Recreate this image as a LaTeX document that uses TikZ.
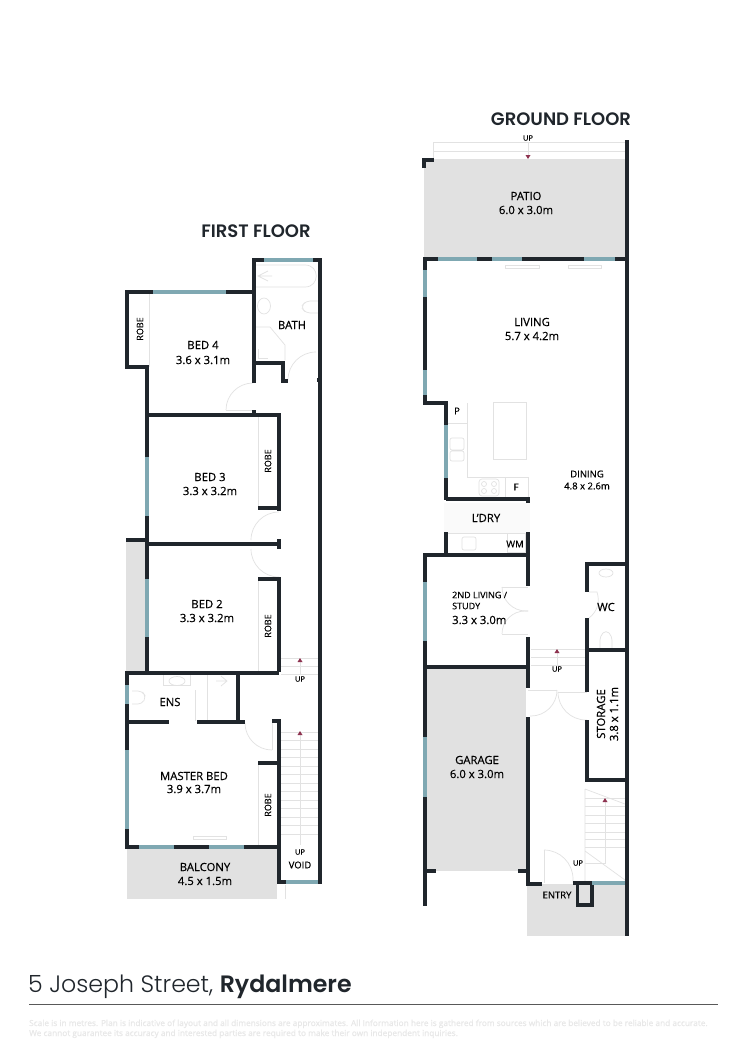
\documentclass[tikz,border=0pt]{standalone}
\usepackage{fontspec}
\setmainfont{Open Sans}[RawFeature={embolden=0.5}]
\newfontfamily\headfont{Poppins SemiBold}
\newfontfamily\titlefont{Poppins Light}
\definecolor{wallcol}{HTML}{20262C}
\definecolor{glasscol}{HTML}{7FA8B2}
\definecolor{slabcol}{HTML}{E1E1E1}
\definecolor{fixcol}{HTML}{E2E2E2}
\definecolor{tipcol}{HTML}{8E3350}
\tikzset{
  wall/.style={draw=wallcol,line width=3.6pt,line cap=butt,line join=miter},
  glass/.style={draw=glasscol,line width=3.4pt},
  fixture/.style={draw=fixcol,line width=0.7pt},
  doorarc/.style={fixture,rounded corners=#1},
  room/.style={font=\fontsize{11.3}{13}\selectfont,text=black,inner sep=0pt},
  small/.style={font=\fontsize{9.5}{11}\selectfont,text=black,inner sep=0pt},
  tiny/.style={font=\fontsize{7.5}{9}\selectfont,text=black,inner sep=0pt},
  heading/.style={font=\headfont\fontsize{18}{21}\selectfont,text=wallcol,inner sep=0pt},
  uptip/.pic={\fill[tipcol] (-2.5,2) -- (2.5,2) -- (0,-2) -- cycle;}
}
\begin{document}
\begin{tikzpicture}[x=1pt,y=-1pt]
	\useasboundingbox[fill=white] (0,0) rectangle (750,1061);

	\fill[slabcol] (126,541) rectangle (146,672);
	\fill[slabcol] (127,848) rectangle (277,899);
	\fill[slabcol] (424,159) rectangle (625,257);
	\fill[slabcol] (427,669) rectangle (526,871);
	\fill[slabcol] (527,884) rectangle (625,936);
	\fill[black!2] (444,503) rectangle (530,533);

	\draw[fixture] (285,885) -- (285,899);
	\draw[fixture] (258,415) -- (258,508) (258,579) -- (258,672) (258,763) -- (258,846);
	\draw[fixture] (149,292) -- (149,367);
	\draw[fixture] (193,836) rectangle (226,839);

	\draw[doorarc=27pt] (226,410) |- (253,383);
	\draw[fixture] (226,410) -- (254,410);
	\draw[doorarc=28pt] (288,380) |- (316,352);
	\draw[doorarc=28pt] (251,540) |- (279,512);
	\draw[doorarc=28pt] (251,549) |- (279,577);
	\draw[doorarc=27pt] (245,723) |- (272,750);
	\draw[fixture] (272,723) -- (272,750);

	\draw[fixture] (256,287) -- (305,287) .. controls (320,287) and (320,265) .. (305,265) -- (256,265);
	\draw[fixture] (268,271) -- (258,276) -- (268,281) (258,276) -- (272,276);
	\draw[fixture] (264,306) ellipse (6.5 and 8);
	\draw[fixture,rounded corners=4pt] (318,301) -- (306,301) -- (301,307) -- (306,313) -- (318,313);
	\draw[fixture] (256,327) -- (270,327) -- (285,345) -- (285,360);
	\draw[fixture] (258,349) -- (258,358) -- (268,358);
	\draw[fixture] (177,681) ellipse (8 and 4.5);
	\draw[fixture] (163,673) -- (163,685) -- (190,685) -- (190,673);
	\draw[fixture] (207,673) -- (207,721) (195,690) -- (195,721);
	\draw[fixture,rounded corners=4pt] (132,691) -- (142,691) -- (146,697) -- (142,704) -- (132,704);
	\draw[fixture] (216,681) -- (227,681) (221,676) -- (227,681) -- (221,686);

	\foreach \ypos in {732,740.5,...,840} \draw[fixture] (281,\ypos) -- (318,\ypos);
	\foreach \ypos in {658,666,674} \draw[fixture] (281,\ypos) -- (318,\ypos);
	\draw[fixture] (300,733) -- (300,845) (300,660) -- (300,674);
	\pic at (300,733) {uptip};
	\pic at (300,660) {uptip};

	\draw[fixture] (433,159) -- (433,142) -- (625,142) (433,151) -- (625,151) (528,142) -- (528,157);
	\pic[rotate=180] at (528,157) {uptip};
	\draw[fixture] (505,265) rectangle (539,268) (568,265) rectangle (601,268);

	\draw[fixture] (447,423) -- (467,423) -- (467,403) (467,423) -- (467,477) -- (505,477);
	\draw[fixture] (505,497) -- (505,477) -- (528,477) -- (528,497);
	\draw[fixture] (493,402) rectangle (526,459);
	\draw[fixture,rounded corners=2pt] (450,438) rectangle (464,450) (450,451) rectangle (464,461);
	\draw[fixture,rounded corners=3pt] (479,479) rectangle (499,496);
	\foreach \xpos in {484,494} \foreach \ypos in {484,491} \draw[fixture] (\xpos,\ypos) circle (2.5);
	\draw[fixture] (447,533) -- (528,533) (507,533) rectangle (525,552);
	\draw[fixture,rounded corners=2pt] (462,537) rectangle (476,550);

	\draw[doorarc=24pt] (502,587) |- (528,611);
	\draw[doorarc=23pt] (502,634) |- (528,611);
	\draw[fixture] (502,587) -- (528,587) (502,634) -- (528,634);
	\draw[fixture] (531,649) -- (585,649) (531,657) -- (585,657) (531,665) -- (585,665) (557,651) -- (557,665);
	\pic at (557,651) {uptip};
	\draw[doorarc=26pt] (557,690) |- (530,716);
	\draw[fixture] (528,690) -- (557,690) (558,692) -- (587,692);
	\draw[doorarc=28pt] (558,692) |- (587,720);
	\draw[fixture] (606,573) ellipse (7 and 4);
	\draw[fixture] (589,592) -- (597,592) to[bend left=35] (589,618);
	\draw[fixture,rounded corners=4pt] (600,648) -- (600,636) -- (606,630) -- (612,636) -- (612,648);

	\draw[fixture] (585,789) -- (625,804) (585,851) -- (625,880) (585,789) -- (585,883);
	\foreach \ypos in {798,806,815,823,832,839,847} \draw[fixture] (585,\ypos) -- (625,\ypos);
	\draw[fixture] (605,800) -- (605,863) -- (585,863);
	\pic at (605,800) {uptip};
	\draw[fixture] (544,850) -- (544,883);
	\draw[doorarc=29pt] (544,850) -| (573,883);

	\draw[wall] (264,260) -| (254,383) (313,260) -- (320,260) -- (320,882) -- (279,882) -- (279,721) -- (272,721);
	\draw[wall] (254,292) -| (127,367) -- (147,367) -- (147,672);
	\draw[wall] (254,410) -- (254,415) (147,415) -| (279,511) (258,508) -- (279,508);
	\draw[wall] (254,363) -| (283,381) -- (288,381) (317,380) -- (320,380);
	\draw[wall] (126,540) -- (147,540) (147,544) -- (279,544) (279,539) -- (279,549);
	\draw[wall] (258,579) -- (279,579) (279,577) -- (279,672);
	\draw[wall] (127,673) -- (279,673) (127,671) -- (127,847) -- (279,847);
	\draw[wall] (238,673) -- (238,722) (127,722) -- (169,722) (197,722) -- (245,722) (258,763) -- (279,763);

	\draw[wall] (424,168) |- (434,160);
	\draw[wall] (627,140) -- (627,936);
	\draw[wall] (627,259) -- (425,259) -- (425,403) -- (446,403) -- (446,500);
	\draw[wall] (446,499) -| (528,503);
	\draw[wall] (446,532) -- (446,555) (528,532) -- (528,586) (425,555) -- (528,555);
	\draw[wall] (425,553) -- (425,906) (425,667) -- (528,667);
	\draw[wall] (528,637) -- (528,688) (528,717) -- (528,884) -- (542,884);
	\draw[wall] (425,871) -- (436,871) (518,871) -- (528,871);
	\draw[wall] (573,883) -- (592,883) (577.5,883) |- (592,905) -- (592,883);
	\draw[wall] (627,564) -- (587,564) -- (587,592) (587,618) -- (587,692) (587,720) -- (587,780) -- (627,780);
	\draw[wall] (587,650) -- (627,650);

	\draw[glass] (264,260) -- (313,260) (153,292) -- (226,292) (147,457) -- (147,516) (147,579) -- (147,637);
	\draw[glass] (127,685) -- (127,704) (127,750) -- (127,829) (139,847) -- (174,847) (209,847) -- (244,847) (286,882) -- (318,882);
	\draw[glass] (438,259) -- (477,259) (492,259) -- (522,259) (584,259) -- (615,259);
	\draw[glass] (425,270) -- (425,297) (425,370) -- (425,395) (446,425) -- (446,478);
	\draw[glass] (425,582) -- (425,641) (425,737) -- (425,797) (592,883) -- (625,883);

	\node[heading] (firsttitle) at (256,231) {FIRST FLOOR};
	\node[heading] (groundtitle) at (561,119) {GROUND FLOOR};

	\node[room] (bedfour) at (203,345) {BED 4};
	\node[room] (bedfourdim) at (203,360) {3.6 x 3.1m};
	\node[room] (bedthree) at (210,477) {BED 3};
	\node[room] (bedthreedim) at (210,491) {3.3 x 3.2m};
	\node[room] (bedtwo) at (207,604) {BED 2};
	\node[room] (bedtwodim) at (207,618) {3.3 x 3.2m};
	\node[room] (master) at (194,776) {MASTER BED};
	\node[room] (masterdim) at (194,789) {3.9 x 3.7m};
	\node[room] (balcony) at (205,867) {BALCONY};
	\node[room] (balconydim) at (205,881) {4.5 x 1.5m};
	\node[room] (bath) at (292,325) {BATH};
	\node[room] (ens) at (170,702) {ENS};
	\node[small,font=\fontsize{9}{11}\selectfont,rotate=90] (robea) at (140,329) {ROBE};
	\node[small,font=\fontsize{9}{11}\selectfont,rotate=90] (robeb) at (268,461) {ROBE};
	\node[small,font=\fontsize{9}{11}\selectfont,rotate=90] (robec) at (268,626) {ROBE};
	\node[small,font=\fontsize{9}{11}\selectfont,rotate=90] (robed) at (268,805) {ROBE};
	\node[tiny] (upa) at (300,679) {UP};
	\node[tiny] (upb) at (300,852) {UP};
	\node[small] (void) at (300,865) {VOID};

	\node[tiny] (upc) at (528,138) {UP};
	\node[room] (patio) at (526,196) {PATIO};
	\node[room] (patiodim) at (526,210) {6.0 x 3.0m};
	\node[room] (living) at (532,322) {LIVING};
	\node[room] (livingdim) at (532,336) {5.7 x 4.2m};
	\node[small] (dining) at (587,474) {DINING};
	\node[small] (diningdim) at (587,486) {4.8 x 2.6m};
	\node[small] (pantry) at (457,411) {P};
	\node[small] (fridge) at (516,487) {F};
	\node[room] (ldry) at (486,518) {L'DRY};
	\node[small] (wm) at (515,544) {WM};
	\node[small,anchor=west,font=\fontsize{9}{11}\selectfont] (study) at (452,595) {2ND LIVING /};
	\node[small,anchor=west,font=\fontsize{9}{11}\selectfont] (studyb) at (452,606) {STUDY};
	\node[room,anchor=west] (studydim) at (452,620) {3.3 x 3.0m};
	\node[room] (wc) at (606,607) {WC};
	\node[room,rotate=90] (storage) at (601,714) {STORAGE};
	\node[room,rotate=90] (storagedim) at (614,714) {3.8 x 1.1m};
	\node[tiny] (upd) at (557,669) {UP};
	\node[room] (garage) at (477,760) {GARAGE};
	\node[room] (garagedim) at (477,774) {6.0 x 3.0m};
	\node[small] (entry) at (557,895) {ENTRY};
	\node[tiny] (upe) at (578,863) {UP};

	\node[anchor=base west,inner sep=0pt,text=wallcol,font=\fontsize{23.7}{27}\selectfont] (address) at (28,992)
		{\titlefont 5 Joseph Street, {\headfont Rydalmere}};
	\draw[draw=black!65,line width=1pt] (29,1004) -- (718,1004);
	\node[anchor=base west,inner sep=0pt,text=black!9,font=\fontsize{8.3}{10}\selectfont] (legala) at (29,1026)
		{Scale is in metres. Plan is indicative of layout and all dimensions are approximates. All Information here is gathered from sources which are believed to be reliable and accurate.};
	\node[anchor=base west,inner sep=0pt,text=black!9,font=\fontsize{8.3}{10}\selectfont] (legalb) at (29,1036)
		{We cannot guarantee its accuracy and interested parties are required to make their own independent inquiries.};
\end{tikzpicture}
\end{document}
